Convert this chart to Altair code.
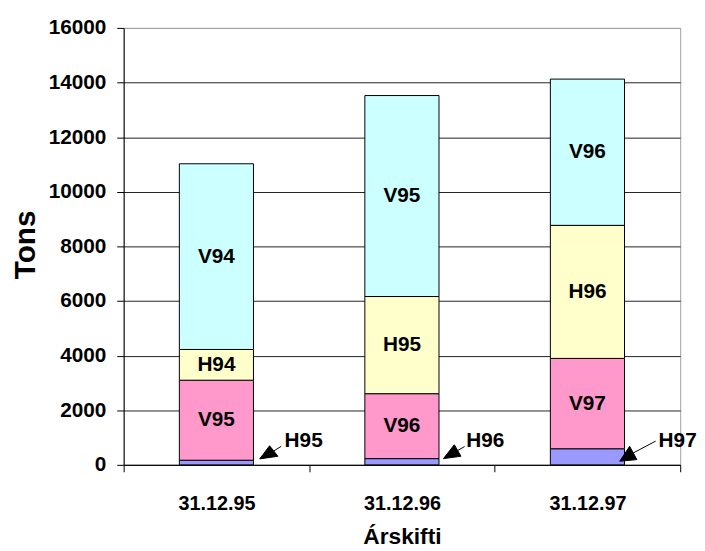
import altair as alt
import pandas as pd

# ---- data ----
categories = ["31.12.95", "31.12.96", "31.12.97"]
segment_names = ["H (næsta ár)", "V (næsta ár)", "H (árið)", "V (árið)"]  # bottom -> top
blue_values = [170, 228, 590]
blue_labels = ["H95", "H96", "H97"]
pink_values = [2930, 2378, 3308]
pink_labels = ["V95", "V96", "V97"]
yellow_values = [1125, 3558, 4872]
yellow_labels = ["H94", "H95", "H96"]
cyan_values = [6800, 7360, 5356]
cyan_labels = ["V94", "V95", "V96"]
y_ticks = [0, 2000, 4000, 6000, 8000, 10000, 12000, 14000, 16000]
colors = ["#9999FF", "#FF99CC", "#FFFFCC", "#CCFFFF"]

rows = []
for order, (seg, vals, labs) in enumerate(zip(
        segment_names,
        [blue_values, pink_values, yellow_values, cyan_values],
        [blue_labels, pink_labels, yellow_labels, cyan_labels])):
    for c, v, l in zip(categories, vals, labs):
        rows.append({"cat": c, "seg": seg, "order": order, "value": v, "label": l})
df = pd.DataFrame(rows)

FONT = "Liberation Sans"

base = alt.Chart(df).transform_stack(
    stack="value", as_=["y0", "y1"], groupby=["cat"],
    sort=[alt.SortField("order", order="ascending")]
).transform_calculate(mid="(datum.y0 + datum.y1) / 2")

x_axis = alt.Axis(
    title="Árskifti", labelAngle=0, grid=False, tickBand="extent",
    labelFont=FONT, labelFontSize=20, labelFontWeight="bold", labelColor="black",
    labelPadding=22, tickSize=7, tickColor="black", domainColor="black",
    titleFont=FONT, titleFontSize=23, titleFontWeight="bold", titleColor="black",
    titleY=80, titleBaseline="alphabetic",
)
y_axis = alt.Axis(
    title="Tons", values=y_ticks, format="d",
    labelFont=FONT, labelFontSize=21, labelFontWeight="bold", labelColor="black",
    labelPadding=11, tickSize=7, tickColor="black", domainColor="black",
    gridColor=alt.condition("datum.value === 16000", alt.value("#a0a0a0"), alt.value("#222222")),
    titleFont=FONT, titleFontSize=30, titleFontWeight="bold", titleColor="black",
    titleX=-90, titleY=219, titleBaseline="alphabetic", titleAlign="center",
)
x_scale = alt.Scale(domain=categories, paddingInner=0, paddingOuter=0)
y_scale = alt.Scale(domain=[0, 16000], nice=False)

X = alt.X("cat:N", sort=categories, scale=x_scale, axis=x_axis)

bars = base.mark_bar(size=75, stroke="black", strokeWidth=1).encode(
    x=X,
    y=alt.Y("y0:Q", scale=y_scale, axis=y_axis),
    y2="y1:Q",
    color=alt.Color("seg:N", scale=alt.Scale(domain=segment_names, range=colors), legend=None),
)

inner = base.transform_filter("datum.order > 0").mark_text(
    font=FONT, fontSize=21, fontWeight="bold", color="black", baseline="middle"
).encode(
    x=X,
    y=alt.Y("mid:Q", scale=y_scale, axis=y_axis),
    text="label:N",
)

# annotation arrows + outside labels for the thin bottom segments
arrow_paths = [
    "M43.8,-6L53.8,-19.3L62.2,-8.7Z M58,-14L65.5,-18.7",
    "M42,-6.3L53,-20.3L59.7,-8.7Z M56.4,-14.5L63.4,-18.5",
    "M32.7,-3.7L42.7,-18.7L50,-5.3Z M46.3,-12L69,-24",
]
label_dx = [69, 65, 72]

layers = [bars, inner]
for cat, path, dx in zip(categories, arrow_paths, label_dx):
    sub = base.transform_filter(f"datum.order == 0 && datum.cat == '{cat}'")
    layers.append(sub.mark_point(
        shape=path, size=4, filled=True, fill="black", stroke="black",
        strokeWidth=1, opacity=1
    ).encode(x=X, y=alt.Y("zero:Q", scale=y_scale, axis=y_axis)).transform_calculate(zero="0"))
    layers.append(sub.mark_text(
        font=FONT, fontSize=21, fontWeight="bold", color="black",
        align="left", baseline="middle", dx=dx, dy=-24
    ).encode(x=X, y=alt.Y("zero:Q", scale=y_scale, axis=y_axis), text="label:N"
    ).transform_calculate(zero="0"))

chart = alt.layer(*layers).properties(
    width=563, height=442,
    autosize=alt.AutoSizeParams(type="none"),
    padding={"left": 117, "top": 17, "right": 17, "bottom": 84},
    background="white",
).configure_view(stroke="#a0a0a0", strokeWidth=1)

chart.save("out.html", embed_options={"renderer": "svg", "actions": False})
